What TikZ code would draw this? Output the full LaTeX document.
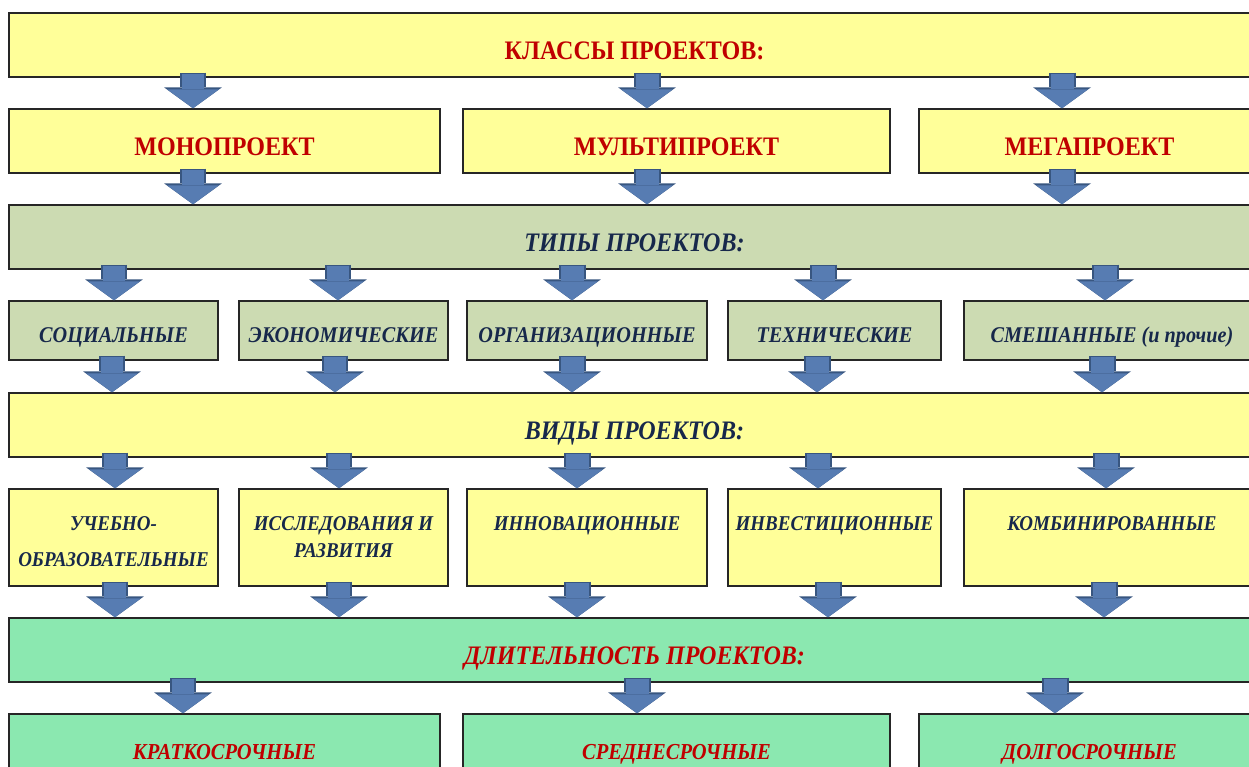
\documentclass[tikz,border=0pt]{standalone}
\usepackage{fontspec}
\setmainfont{Liberation Serif}[FakeStretch=0.9]
\usetikzlibrary{arrows.meta}
\definecolor{mred}{RGB}{192,0,0}
\definecolor{mnavy}{RGB}{23,40,75}
\definecolor{myellow}{RGB}{255,255,153}
\definecolor{mgreygreen}{RGB}{204,219,178}
\definecolor{mgreen}{RGB}{139,232,176}
\definecolor{marrow}{RGB}{87,124,178}
\definecolor{marrowline}{RGB}{56,86,128}
\newcommand{\toptext}[2]{\parbox[c][0.84cm][t]{#1}{\centering #2}}

\begin{document}
\begin{tikzpicture}[
    x=0.02cm, y=-0.02cm,
    boxnode/.style={rectangle, draw=black!85, line width=0.8pt, inner sep=1pt, minimum height=1.28cm},
    yellownode/.style={boxnode, fill=myellow},
    greynode/.style={boxnode, fill=mgreygreen},
    greennode/.style={boxnode, fill=mgreen},
    headred/.style={text=mred, font=\bfseries\fontsize{15.2}{18}\selectfont, text height=16.9pt, text depth=0pt},
    headnavy/.style={headred, text=mnavy, font=\bfseries\itshape\fontsize{15.2}{18}\selectfont},
    headredit/.style={headred, font=\bfseries\itshape\fontsize{15.2}{18}\selectfont},
    lowredit/.style={text=mred, font=\bfseries\itshape\fontsize{13}{16}\selectfont, text height=15.4pt, text depth=0pt},
    smallnavy/.style={text=mnavy, font=\bfseries\itshape\fontsize{12.8}{15}\selectfont, text height=14.2pt, text depth=0pt},
    topnavy/.style={text=mnavy, font=\bfseries\itshape\fontsize{12}{15.3}\selectfont},
    barrow/.style={draw=marrow, line width=0.46cm,
        -{Triangle[width=1.04cm, length=0.38cm, line width=0pt]}, shorten <=-0.08cm,
        preaction={draw=marrowline, line width=0.54cm,
        -{Triangle[width=1.16cm, length=0.42cm, line width=0pt]}, shorten <=-0.1cm}}
    ]
    \useasboundingbox (0,0) rectangle (1249,767);

    %Nodes
    \node[yellownode, headred, minimum width=25.02cm] (klassy) at (634.5,45) {КЛАССЫ ПРОЕКТОВ:};

    \node[yellownode, headred, minimum width=8.62cm] (mono)  at (224.5,141)  {МОНОПРОЕКТ};
    \node[yellownode, headred, minimum width=8.54cm] (multi) at (676.5,141)  {МУЛЬТИПРОЕКТ};
    \node[yellownode, headred, minimum width=6.82cm] (mega)  at (1089.5,141) {МЕГАПРОЕКТ};

    \node[greynode, headnavy, minimum width=25.02cm] (tipy) at (634.5,237) {ТИПЫ ПРОЕКТОВ:};

    \node[greynode, smallnavy, minimum height=1.18cm, minimum width=4.18cm] (soc)  at (113.5,330.5) {СОЦИАЛЬНЫЕ};
    \node[greynode, smallnavy, minimum height=1.18cm, minimum width=4.18cm] (ekon) at (343.5,330.5) {ЭКОНОМИЧЕСКИЕ};
    \node[greynode, smallnavy, minimum height=1.18cm, minimum width=4.80cm] (org)  at (587,330.5)   {ОРГАНИЗАЦИОННЫЕ};
    \node[greynode, smallnavy, minimum height=1.18cm, minimum width=4.26cm] (tech) at (834.5,330.5) {ТЕХНИЧЕСКИЕ};
    \node[greynode, smallnavy, minimum height=1.18cm, minimum width=5.92cm] (mix)  at (1112,330.5)  {СМЕШАННЫЕ (и прочие)};

    \node[yellownode, headnavy, minimum width=25.02cm] (vidy) at (634.5,425) {ВИДЫ ПРОЕКТОВ:};

    \node[yellownode, topnavy, minimum height=1.94cm, minimum width=4.18cm] (ucheb)  at (113.5,537.5) {\toptext{4.0cm}{УЧЕБНО-\\[5pt]ОБРАЗОВАТЕЛЬНЫЕ}};
    \node[yellownode, topnavy, minimum height=1.94cm, minimum width=4.18cm] (issl)   at (343.5,537.5) {\toptext{4.0cm}{ИССЛЕДОВАНИЯ И\\РАЗВИТИЯ}};
    \node[yellownode, topnavy, minimum height=1.94cm, minimum width=4.80cm] (innov)  at (587,537.5)   {\toptext{4.6cm}{ИННОВАЦИОННЫЕ}};
    \node[yellownode, topnavy, minimum height=1.94cm, minimum width=4.26cm] (invest) at (834.5,537.5) {\toptext{4.1cm}{ИНВЕСТИЦИОННЫЕ}};
    \node[yellownode, topnavy, minimum height=1.94cm, minimum width=5.92cm] (komb)   at (1112,537.5)  {\toptext{5.7cm}{КОМБИНИРОВАННЫЕ}};

    \node[greennode, headredit, minimum width=25.02cm] (dlit) at (634.5,650) {ДЛИТЕЛЬНОСТЬ ПРОЕКТОВ:};

    \node[greennode, lowredit, minimum width=8.62cm] (kratk) at (224.5,746)  {КРАТКОСРОЧНЫЕ};
    \node[greennode, lowredit, minimum width=8.54cm] (sredn) at (676.5,746)  {СРЕДНЕСРОЧНЫЕ};
    \node[greennode, lowredit, minimum width=6.82cm] (dolg)  at (1089.5,746) {ДОЛГОСРОЧНЫЕ};

    %Arrows
    \draw[barrow] (klassy.south -| 193,0) -- (mono.north -| 193,0);
    \draw[barrow] (klassy.south -| 647,0) -- (multi.north -| 647,0);
    \draw[barrow] (klassy.south -| 1062,0) -- (mega.north -| 1062,0);

    \draw[barrow] (mono.south -| 193,0) -- (tipy.north -| 193,0);
    \draw[barrow] (multi.south -| 647,0) -- (tipy.north -| 647,0);
    \draw[barrow] (mega.south -| 1062,0) -- (tipy.north -| 1062,0);

    \draw[barrow] (tipy.south -| 114,0) -- (soc.north -| 114,0);
    \draw[barrow] (tipy.south -| 338,0) -- (ekon.north -| 338,0);
    \draw[barrow] (tipy.south -| 572,0) -- (org.north -| 572,0);
    \draw[barrow] (tipy.south -| 823,0) -- (tech.north -| 823,0);
    \draw[barrow] (tipy.south -| 1105,0) -- (mix.north -| 1105,0);

    \draw[barrow] (soc.south -| 112,0) -- (vidy.north -| 112,0);
    \draw[barrow] (ekon.south -| 335,0) -- (vidy.north -| 335,0);
    \draw[barrow] (org.south -| 572,0) -- (vidy.north -| 572,0);
    \draw[barrow] (tech.south -| 817,0) -- (vidy.north -| 817,0);
    \draw[barrow] (mix.south -| 1102,0) -- (vidy.north -| 1102,0);

    \draw[barrow] (vidy.south -| 115,0) -- (ucheb.north -| 115,0);
    \draw[barrow] (vidy.south -| 339,0) -- (issl.north -| 339,0);
    \draw[barrow] (vidy.south -| 577,0) -- (innov.north -| 577,0);
    \draw[barrow] (vidy.south -| 818,0) -- (invest.north -| 818,0);
    \draw[barrow] (vidy.south -| 1106,0) -- (komb.north -| 1106,0);

    \draw[barrow] (ucheb.south -| 115,0) -- (dlit.north -| 115,0);
    \draw[barrow] (issl.south -| 339,0) -- (dlit.north -| 339,0);
    \draw[barrow] (innov.south -| 577,0) -- (dlit.north -| 577,0);
    \draw[barrow] (invest.south -| 828,0) -- (dlit.north -| 828,0);
    \draw[barrow] (komb.south -| 1104,0) -- (dlit.north -| 1104,0);

    \draw[barrow] (dlit.south -| 183,0) -- (kratk.north -| 183,0);
    \draw[barrow] (dlit.south -| 637,0) -- (sredn.north -| 637,0);
    \draw[barrow] (dlit.south -| 1055,0) -- (dolg.north -| 1055,0);
\end{tikzpicture}
\end{document}
